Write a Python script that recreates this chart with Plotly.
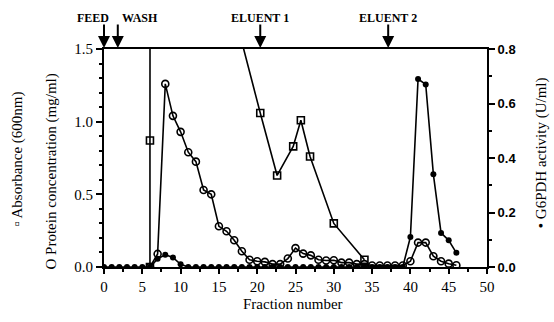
import plotly.graph_objects as go

# ---- data ----
abs_fraction = [6, 6, 6.1, 17, 20.4, 22.6, 24.7, 25.7, 26.9, 30, 34]
abs_value = [0, 0.87, 12, 1.75, 1.06, 0.63, 0.83, 1.01, 0.76, 0.30, 0.05]

prot_fraction = list(range(6, 47))
prot_value = [0, 0.09, 1.26, 1.04, 0.93, 0.79, 0.725, 0.53, 0.50, 0.28, 0.246,
              0.184, 0.108, 0.05, 0.04, 0.035, 0.02, 0.02, 0.058, 0.13, 0.092,
              0.08, 0.05, 0.045, 0.046, 0.03, 0.03, 0.02, 0.02, 0.01, 0.01,
              0.01, 0.01, 0.01, 0.04, 0.168, 0.168, 0.074, 0.04, 0.023, 0.012]

g6pdh_fraction = list(range(0, 47))
g6pdh_value = [0, 0, 0, 0, 0, 0, 0, 0.03, 0.045, 0.035, 0.01] + [0] * 29 + \
              [0.11, 0.69, 0.67, 0.34, 0.125, 0.098, 0.052]

event_labels = ["FEED", "WASH", "ELUENT 1", "ELUENT 2"]
event_fraction = [0, 1.8, 20.4, 37.1]
x_ticks = [0, 5, 10, 15, 20, 25, 30, 35, 40, 45, 50]
left_ticks = [0.0, 0.5, 1.0, 1.5]
right_ticks = [0.0, 0.2, 0.4, 0.6, 0.8]

SERIF = "Liberation Serif"
fig = go.Figure()

fig.add_trace(go.Scatter(
    x=g6pdh_fraction, y=g6pdh_value, yaxis="y2", mode="lines+markers",
    line=dict(color="black", width=1.6),
    marker=dict(symbol="circle", size=6, color="black"),
    showlegend=False))
fig.add_trace(go.Scatter(
    x=prot_fraction, y=prot_value, mode="lines+markers",
    line=dict(color="black", width=1.6),
    marker=dict(symbol="circle-open", size=7, color="black", line=dict(width=1.6)),
    showlegend=False))
fig.add_trace(go.Scatter(
    x=abs_fraction, y=abs_value, mode="lines+markers",
    line=dict(color="black", width=1.6),
    marker=dict(symbol="square-open", size=7, color="black", line=dict(width=1.6)),
    showlegend=False))

annotations = []
label_pos = [(-0.03, 0), (0.093, 0), None, None]
lab_font = dict(family=SERIF, size=12, color="black", weight="bold")
for lab, fx, lp in zip(event_labels, event_fraction, label_pos):
    annotations.append(dict(x=fx, y=1.5, xref="x", yref="y", text="",
                            font=dict(size=1), borderpad=0,
                            showarrow=True, arrowhead=2, arrowsize=1.2,
                            arrowwidth=2, arrowcolor="black", ax=0, ay=-25,
                            standoff=1))
    if lp is None:
        annotations.append(dict(x=fx, y=1.0, xref="x", yref="paper", yshift=31,
                                xanchor="center", yanchor="middle",
                                text=lab, showarrow=False, font=lab_font))
    else:
        annotations.append(dict(x=lp[0], y=1.0, xref="paper", yref="paper", yshift=31,
                                xanchor="center", yanchor="middle",
                                text=lab, showarrow=False, font=lab_font))

annotations += [
    dict(x=-0.228, y=0.495, xref="paper", yref="paper", textangle=-90,
         xanchor="center", yanchor="middle",
         text="▫ Absorbance (600nm)", showarrow=False,
         font=dict(family=SERIF, size=15, color="black")),
    dict(x=-0.137, y=0.436, xref="paper", yref="paper", textangle=-90,
         xanchor="center", yanchor="middle",
         text="O Protein concentration (mg/ml)", showarrow=False,
         font=dict(family=SERIF, size=15, color="black")),
    dict(x=1.144, y=0.523, xref="paper", yref="paper", textangle=-90,
         xanchor="center", yanchor="middle",
         text="• G6PDH activity (U/ml)", showarrow=False,
         font=dict(family=SERIF, size=15, color="black")),
    dict(x=0.493, y=-0.172, xref="paper", yref="paper",
         xanchor="center", yanchor="middle",
         text="Fraction number", showarrow=False,
         font=dict(family=SERIF, size=15, color="black")),
]

fig.update_layout(
    width=554, height=322,
    margin=dict(l=104, r=67, t=49, b=55),
    paper_bgcolor="white", plot_bgcolor="white",
    xaxis=dict(range=[0, 50], tickvals=x_ticks, ticks="outside", ticklen=5,
               tickwidth=1.5, tickcolor="black", showline=True, linecolor="black",
               linewidth=2, mirror=True, showgrid=False, zeroline=False,
               tickfont=dict(family=SERIF, size=15, color="black"),
               minor=dict(dtick=2.5, ticks="outside", ticklen=3, tickcolor="black")),
    yaxis=dict(range=[0, 1.5], tickvals=left_ticks, ticktext=["0.0", "0.5", "1.0", "1.5"],
               ticks="outside", ticklen=6, tickwidth=1.5, tickcolor="black",
               showline=True, linecolor="black", linewidth=2, showgrid=False,
               zeroline=False, tickfont=dict(family=SERIF, size=15, color="black"),
               minor=dict(dtick=0.1, ticks="outside", ticklen=3, tickcolor="black")),
    yaxis2=dict(range=[0, 0.8], overlaying="y", side="right", tickvals=right_ticks,
                ticktext=["0.0", "0.2", "0.4", "0.6", "0.8"],
                ticks="outside", ticklen=6, tickwidth=1.5, tickcolor="black",
                showline=True, linecolor="black", linewidth=2, showgrid=False,
                zeroline=False,
                tickfont=dict(family="Liberation Sans", size=13, color="black", weight="bold"),
                minor=dict(dtick=0.1, ticks="outside", ticklen=3, tickcolor="black")),
    annotations=annotations,
)

fig.write_html("out.html")
